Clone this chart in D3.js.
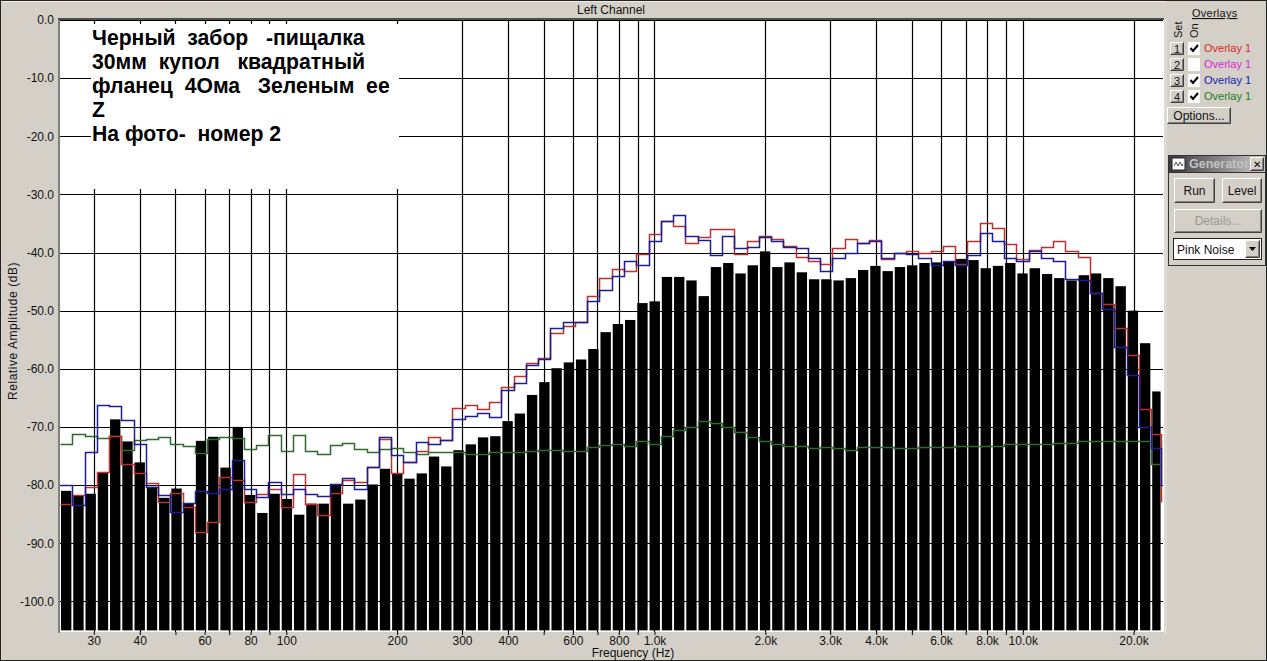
<!DOCTYPE html>
<html>
<head>
<meta charset="utf-8">
<script src="https://cdn.jsdelivr.net/npm/d3@7"></script>
<style>
html, body { margin: 0; padding: 0; background: #d4d0c8; overflow: hidden; }
svg { display: block; font-family: "Liberation Sans", Arial, sans-serif; }
text { white-space: pre; }
</style>
</head>
<body>
<div id="chart"></div>
<script>
var w = 1267, h = 661; // size of the screenshot
var plotLeft = 60, plotTop = 20, plotRight = 1164, plotBottom = 632;

// band edges in Hz (the analyser's bins, last one cut by the right border)
var bandEdges = [24.44, 26.39, 28.49, 30.76, 33.21, 35.86, 38.71, 41.80, 45.13, 48.73,
  52.61, 56.80, 61.33, 66.22, 71.50, 77.20, 83.35, 89.99, 97.16, 104.9,
  113.3, 122.3, 132.1, 142.6, 153.9, 166.2, 179.5, 193.8, 209.2, 225.9,
  243.9, 263.3, 284.3, 306.9, 331.4, 357.8, 386.3, 417.1, 450.3, 486.2,
  525.0, 566.8, 611.9, 660.7, 713.3, 770.2, 831.6, 897.9, 969.4, 1047,
  1130, 1220, 1317, 1422, 1536, 1658, 1790, 1933, 2087, 2253,
  2433, 2627, 2836, 3062, 3306, 3569, 3854, 4161, 4493, 4851,
  5237, 5655, 6105, 6592, 7117, 7685, 8297, 8958, 9672, 10440,
  11280, 12170, 13140, 14190, 15320, 16540, 17860, 19290, 20820, 22480, 23970];

// black bars (dB)
var barValues = [-81.0, -81.8, -81.5, -77.8, -68.7, -72.5, -76.1, -80.3, -82.2, -80.6,
  -83.1, -72.4, -71.7, -77.0, -70.0, -81.7, -84.8, -81.5, -82.4, -85.1,
  -83.2, -83.2, -79.9, -83.2, -82.5, -79.9, -77.2, -78.0, -78.9, -78.0,
  -75.1, -76.8, -74.0, -73.0, -71.8, -71.6, -69.0, -67.7, -64.5, -62.3,
  -59.9, -58.9, -58.4, -56.6, -53.7, -52.3, -51.6, -48.7, -48.4, -44.2,
  -44.2, -44.8, -47.5, -42.5, -41.8, -43.6, -42.2, -39.8, -42.5, -41.7,
  -43.4, -44.6, -44.6, -44.8, -44.4, -43.0, -42.3, -43.2, -42.5, -42.2,
  -41.8, -41.7, -41.5, -41.1, -41.3, -42.7, -42.3, -41.8, -43.6, -42.7,
  -43.7, -44.4, -44.8, -43.9, -43.6, -44.4, -45.8, -50.0, -55.6, -63.9];

// overlays, one value per band edge (stepped)
var redValues = [-83.3, -81.7, -80.3, -77.8, -71.6, -76.4, -77.9, -79.7, -83.0, -81.3,
  -83.8, -88.0, -86.4, -78.6, -79.1, -83.0, -81.6, -80.7, -83.8, -78.1,
  -83.3, -85.1, -81.3, -79.2, -79.4, -76.9, -72.1, -77.9, -76.0, -74.2,
  -71.7, -72.2, -66.7, -66.3, -67.0, -65.8, -63.1, -61.2, -59.0, -58.1,
  -53.8, -52.6, -52.0, -47.4, -44.3, -42.9, -43.1, -40.3, -36.9, -34.5,
  -35.5, -38.3, -37.4, -36.0, -36.0, -40.2, -38.1, -37.1, -37.6, -38.8,
  -40.7, -41.4, -41.9, -39.3, -37.6, -38.3, -37.9, -41.2, -40.1, -39.8,
  -40.1, -39.7, -38.8, -41.9, -38.1, -35.0, -35.7, -38.6, -41.2, -39.5,
  -39.1, -38.1, -39.8, -40.7, -46.9, -48.8, -52.9, -57.6, -66.9, -71.2, -83.0];
var blueValues = [-80.0, -83.5, -74.3, -66.2, -66.4, -68.8, -73.0, -80.3, -81.7, -84.7,
  -83.1, -81.0, -81.4, -80.7, -75.7, -80.7, -82.1, -79.5, -81.6, -80.7,
  -81.6, -81.9, -79.9, -78.8, -80.6, -76.9, -71.7, -74.9, -76.1, -72.6,
  -73.0, -72.2, -68.7, -68.1, -67.6, -68.3, -63.6, -62.4, -59.4, -58.4,
  -52.9, -51.9, -52.0, -48.4, -46.5, -44.0, -41.5, -42.1, -38.1, -34.6,
  -33.6, -37.1, -37.9, -40.5, -37.1, -39.3, -39.1, -37.4, -38.1, -39.1,
  -39.3, -41.0, -43.1, -40.9, -40.1, -38.3, -38.1, -41.0, -40.1, -40.3,
  -41.0, -42.2, -41.5, -42.2, -40.5, -36.7, -38.1, -40.9, -41.5, -39.8,
  -41.0, -41.5, -44.6, -44.8, -46.9, -49.8, -56.2, -61.0, -70.0, -73.7, -80.0];
var greenValues = [-72.9, -71.3, -71.6, -71.9, -71.6, -74.0, -72.3, -72.0, -71.7, -72.9,
  -73.3, -74.5, -72.0, -71.7, -71.9, -73.8, -73.1, -71.4, -74.1, -71.4,
  -74.1, -74.7, -73.1, -72.8, -73.8, -74.3, -73.8, -73.6, -74.4, -74.6,
  -74.4, -74.3, -74.4, -74.6, -74.6, -74.3, -74.4, -74.4, -74.1, -74.0,
  -73.9, -74.1, -74.1, -73.4, -73.1, -73.0, -73.2, -72.5, -72.9, -71.5,
  -70.6, -70.1, -69.0, -69.3, -70.1, -70.8, -71.8, -72.5, -73.0, -73.2,
  -73.2, -73.6, -73.4, -73.6, -73.9, -73.4, -73.4, -73.4, -73.6, -73.6,
  -73.4, -73.4, -73.4, -73.2, -73.2, -73.2, -73.2, -72.9, -73.0, -72.9,
  -72.9, -72.7, -72.7, -72.5, -72.5, -72.5, -72.4, -72.5, -72.5, -76.3, -76.3];

// axes
var yTicks = [0, -10, -20, -30, -40, -50, -60, -70, -80, -90, -100];
var xTicks = [30, 40, 50, 60, 70, 80, 90, 100, 200, 300, 400, 500, 600, 700, 800, 900,
  1000, 2000, 3000, 4000, 5000, 6000, 7000, 8000, 9000, 10000, 20000];
var xTickLabels = ["30", "40", "", "60", "", "80", "", "100", "200", "300", "400", "", "600", "", "800", "",
  "1.0k", "2.0k", "3.0k", "4.0k", "", "6.0k", "", "8.0k", "", "10.0k", "20.0k"];

var noteLines = ["Черный  забор   -пищалка", "30мм  купол   квадратный", "фланец  4Ома   Зеленым  ее", "Z", "На фото-  номер 2"];
var overlayNames = ["Overlay 1", "Overlay 1", "Overlay 1", "Overlay 1"];
var overlayColors = ["#d82828", "#d828d8", "#1818b8", "#1f7a1f"];
var overlayOn = [true, false, true, true];

var x = d3.scaleLog().domain([100, 10000]).range([286.3, 1022.7]);
var y = d3.scaleLinear().domain([0, -100]).range([plotTop, 601.3]);
var barFloor = -105;

var svg = d3.select("#chart").append("svg")
  .attr("width", w)
  .attr("height", h);

// window background and frame
svg.append("rect").attr("width", w).attr("height", h).attr("fill", "#d4d0c8");
svg.append("rect").attr("x", 0.5).attr("y", 0.5).attr("width", w - 1).attr("height", h - 1)
  .attr("fill", "none").attr("stroke", "#222");

// plot area
svg.append("rect").attr("x", plotLeft).attr("y", plotTop)
  .attr("width", plotRight - plotLeft).attr("height", plotBottom - plotTop)
  .attr("fill", "#fff");

// grid
svg.append("g").selectAll("line").data(yTicks).enter().append("line")
  .attr("x1", 58).attr("x2", plotRight - 1)
  .attr("y1", function(d) { return Math.round(y(d)) + 0.5; })
  .attr("y2", function(d) { return Math.round(y(d)) + 0.5; })
  .attr("stroke", "#000")
  .attr("stroke-width", 1.2);
svg.append("g").selectAll("line").data(xTicks).enter().append("line")
  .attr("x1", function(d) { return Math.round(x(d)) + 0.5; })
  .attr("x2", function(d) { return Math.round(x(d)) + 0.5; })
  .attr("y1", plotTop).attr("y2", plotBottom)
  .attr("stroke", "#000")
  .attr("stroke-width", 1.2);

// white box under the note hides the grid
svg.append("rect").attr("x", 91).attr("y", 24).attr("width", 308).attr("height", 165).attr("fill", "#fff");

// bars
svg.append("g").selectAll("rect").data(barValues).enter().append("rect")
  .attr("x", function(d, i) { return x(bandEdges[i]); })
  .attr("width", function(d, i) { return x(bandEdges[i + 1]) - x(bandEdges[i]) - 1.9; })
  .attr("y", function(d) { return y(d); })
  .attr("height", function(d) { return y(barFloor) - y(d); })
  .attr("fill", "#000");

// stepped overlays
var line = d3.line()
  .x(function(d, i) { return Math.round(x(bandEdges[i])) - 0.5; })
  .y(function(d) { return Math.round(y(d)) + 0.5; })
  .curve(d3.curveStepAfter);

[[greenValues, "#2f6b2f"], [redValues, "#bc3030"], [blueValues, "#1c1c96"]].forEach(function(s) {
  svg.append("path")
    .attr("d", line(s[0]))
    .attr("fill", "none")
    .attr("stroke", s[1])
    .attr("stroke-width", 1.5);
});

// axes
var yAxis = d3.axisLeft(y)
  .tickValues(yTicks)
  .tickSize(0)
  .tickPadding(6)
  .tickFormat(function(d) { return d.toFixed(1); });
var gy = svg.append("g").attr("transform", "translate(" + plotLeft + ",0)").call(yAxis);
gy.select(".domain").remove();
gy.selectAll("text").attr("font-size", 12).attr("font-family", "Liberation Sans").attr("fill", "#111");

var xAxis = d3.axisBottom(x)
  .tickValues(xTicks)
  .tickSize(3)
  .tickPadding(1)
  .tickFormat(function(d, i) { return xTickLabels[i]; });
var gx = svg.append("g").attr("transform", "translate(0," + plotBottom + ")").call(xAxis);
gx.select(".domain").remove();
gx.selectAll("text").attr("font-size", 12).attr("font-family", "Liberation Sans").attr("fill", "#111");

// plot border
svg.append("rect").attr("x", 58).attr("y", plotTop - 1).attr("width", 2).attr("height", plotBottom - plotTop + 2).attr("fill", "#808080");
svg.append("rect").attr("x", 58).attr("y", plotTop - 2).attr("width", plotRight - 58).attr("height", 2).attr("fill", "#505050");
svg.append("rect").attr("x", 1).attr("y", 1).attr("width", 1165).attr("height", 1).attr("fill", "#f0eee8");
svg.append("rect").attr("x", 1164).attr("y", 18).attr("width", 3).attr("height", plotBottom - 16).attr("fill", "#dedbd3");

// titles
svg.append("text").attr("x", 611).attr("y", 14).attr("text-anchor", "middle").attr("font-size", 12).attr("fill", "#111").text("Left Channel");
svg.append("text").attr("x", 633).attr("y", 657).attr("text-anchor", "middle").attr("font-size", 12).attr("fill", "#111").text("Frequency (Hz)");
svg.append("text").attr("transform", "translate(17,331) rotate(-90)").attr("text-anchor", "middle").attr("font-size", 12).attr("letter-spacing", 0.55).attr("fill", "#111").text("Relative Amplitude (dB)");

// note
svg.append("g").selectAll("text").data(noteLines).enter().append("text")
  .attr("x", 92)
  .attr("y", function(d, i) { return 45 + i * 24; })
  .attr("font-size", 21.2)
  .attr("font-weight", "bold")
  .attr("fill", "#000")
  .text(function(d) { return d; });

// ---- right hand panel ----
function bevel(px, py, bw, bh) {
  var g = svg.append("g");
  g.append("rect").attr("x", px).attr("y", py).attr("width", bw).attr("height", bh).attr("fill", "#d4d0c8");
  g.append("path").attr("d", "M" + (px + 0.5) + "," + (py + bh - 1) + "V" + (py + 0.5) + "H" + (px + bw - 1)).attr("fill", "none").attr("stroke", "#fff");
  g.append("path").attr("d", "M" + (px + 0.5) + "," + (py + bh - 0.5) + "H" + (px + bw - 0.5) + "V" + (py + 0.5)).attr("fill", "none").attr("stroke", "#404040");
  g.append("path").attr("d", "M" + (px + 1.5) + "," + (py + bh - 1.5) + "H" + (px + bw - 1.5) + "V" + (py + 1.5)).attr("fill", "none").attr("stroke", "#808080");
}
function button(px, py, bw, bh, label, color, size) {
  bevel(px, py, bw, bh);
  svg.append("text").attr("x", px + bw / 2).attr("y", py + bh / 2 + 4).attr("text-anchor", "middle")
    .attr("font-size", size || 12).attr("fill", color || "#111").text(label);
}

svg.append("text").attr("x", 1192).attr("y", 17).attr("font-size", 11).attr("letter-spacing", 0.25).attr("fill", "#111").attr("text-decoration", "underline").text("Overlays");
svg.append("text").attr("transform", "translate(1182,38) rotate(-90)").attr("font-size", 11).attr("fill", "#111").text("Set");
svg.append("text").attr("transform", "translate(1198,38) rotate(-90)").attr("font-size", 11).attr("fill", "#111").text("On");

overlayNames.forEach(function(name, i) {
  var ry = 42 + i * 16;
  button(1170, ry, 14, 13, String(i + 1), "#111", 11);
  svg.append("rect").attr("x", 1188).attr("y", ry).attr("width", 12).attr("height", 13).attr("fill", "#fff");
  if (overlayOn[i]) {
    svg.append("path").attr("d", "M" + 1190.5 + "," + (ry + 6) + "l2.5,3l5,-6").attr("fill", "none").attr("stroke", "#000").attr("stroke-width", 2);
  }
  svg.append("text").attr("x", 1204).attr("y", ry + 10).attr("font-size", 11).attr("fill", overlayColors[i]).text(name);
});
button(1167, 107, 64, 17, "Options...", "#111", 12);

// generator window
svg.append("rect").attr("x", 1168.5).attr("y", 155.5).attr("width", 97).attr("height", 110).attr("fill", "#d4d0c8").attr("stroke", "#333");
var grad = svg.append("defs").append("linearGradient").attr("id", "titleGrad");
grad.append("stop").attr("offset", "0%").attr("stop-color", "#3a3a3a");
grad.append("stop").attr("offset", "100%").attr("stop-color", "#c8c8c8");
svg.append("rect").attr("x", 1169).attr("y", 156).attr("width", 96).attr("height", 16).attr("fill", "url(#titleGrad)");
svg.append("rect").attr("x", 1169).attr("y", 172).attr("width", 96).attr("height", 1).attr("fill", "#333");
svg.append("rect").attr("x", 1172).attr("y", 158).attr("width", 13).attr("height", 12).attr("fill", "#fff").attr("stroke", "#222");
svg.append("path").attr("d", "M1174,166l2,-4l2,4l2,-4l2,4l1,-2").attr("fill", "none").attr("stroke", "#555");
svg.append("text").attr("x", 1189).attr("y", 168).attr("font-size", 12.5).attr("font-weight", "bold").attr("fill", "#c4c4c4").text("Generator");
button(1250, 157, 14, 14, "✕", "#000", 10);
button(1174, 178, 41, 25, "Run", "#111", 12);
button(1222, 178, 40, 25, "Level", "#111", 12);
button(1174, 209, 88, 24, "Details...", "#999", 12);
svg.append("rect").attr("x", 1173.5).attr("y", 238.5).attr("width", 88).attr("height", 21).attr("fill", "#fff").attr("stroke", "#222");
svg.append("text").attr("x", 1177).attr("y", 254).attr("font-size", 12).attr("fill", "#111").text("Pink Noise");
bevel(1245, 240, 15, 18);
svg.append("path").attr("d", "M1249,247h7l-3.5,4z").attr("fill", "#000");
</script>
</body>
</html>
